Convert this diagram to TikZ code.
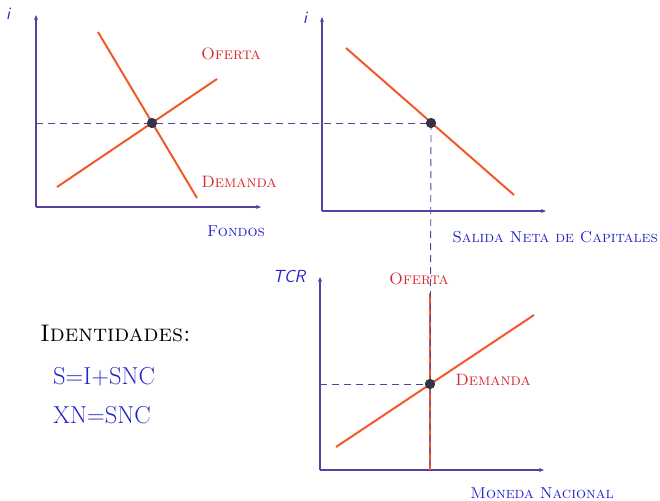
\documentclass[tikz,border=0pt]{standalone}
\usetikzlibrary{arrows.meta}
\definecolor{axiscol}{HTML}{5A3FA0}
\definecolor{curvecol}{HTML}{F2582A}
\definecolor{labred}{HTML}{D8262E}
\definecolor{labblue}{HTML}{2424C4}
\definecolor{dotcol}{HTML}{33334A}
\begin{document}
\begin{tikzpicture}[x=1pt,y=-1pt,
  axis/.style={draw=axiscol,line width=1.3pt,-{Stealth[length=5pt,width=4pt]}},
  curve/.style={draw=curvecol,line width=2pt},
  guide/.style={draw=axiscol,line width=0.9pt,dash pattern=on 7pt off 5pt},
  eqdot/.style={circle,fill=dotcol,inner sep=0pt,minimum size=10pt},
  redlab/.style={text=labred,font=\fontsize{16.5}{19}\selectfont\scshape,inner sep=0pt},
  bluelab/.style={text=labblue,font=\fontsize{15.8}{18}\selectfont\scshape,inner sep=0pt},
  axlab/.style={text=labblue,font=\fontsize{17.5}{20}\selectfont\sffamily\itshape,inner sep=0pt},
  eqlab/.style={text=labblue,font=\fontsize{24.5}{28}\selectfont,inner sep=0pt,anchor=west}]
\useasboundingbox (0,0) rectangle (660,500);
% panel 1
\coordinate (o1) at (36,207);
\coordinate (y1) at (36,15);
\coordinate (x1) at (261,207);
\draw[axis] (o1) -- (y1);
\draw[axis] (o1) -- (x1);
\coordinate (s1a) at (57,187);
\coordinate (s1b) at (217,79);
\coordinate (d1a) at (98,32);
\coordinate (d1b) at (197,198);
\draw[curve] (s1a) -- (s1b);
\draw[curve] (d1a) -- (d1b);
\node[axlab] (i1) at (8,14) {i};
\node[redlab] (of1) at (231,54) {Oferta};
\node[redlab] (de1) at (239,182) {Demanda};
\node[bluelab] (fo) at (236,231) {Fondos};
% panel 2
\coordinate (o2) at (322,211);
\coordinate (y2) at (322,17);
\coordinate (x2) at (546,211);
\draw[axis] (o2) -- (y2);
\draw[axis] (o2) -- (x2);
\coordinate (d2a) at (346,48);
\coordinate (d2b) at (514,195);
\draw[curve] (d2a) -- (d2b);
\node[axlab] (i2) at (305,18) {i};
\node[bluelab] (snc) at (555,237) {Salida Neta de Capitales};
% panel 3
\coordinate (o3) at (320,470);
\coordinate (y3) at (320,277);
\coordinate (x3) at (544,470);
\draw[axis] (o3) -- (y3);
\draw[axis] (o3) -- (x3);
\coordinate (s3a) at (430,293);
\coordinate (s3b) at (430,470);
\coordinate (d3a) at (336,447);
\coordinate (d3b) at (534,315);
\draw[curve] (s3a) -- (s3b);
\draw[curve] (d3a) -- (d3b);
\node[axlab] (tcr) at (289,276) {TCR};
\node[redlab] (of3) at (419,279) {Oferta};
\node[redlab] (de3) at (493,380) {Demanda};
\node[bluelab] (mn) at (542,493) {Moneda Nacional};
% equilibrium points and guides
\node[eqdot] (e1) at (152,123) {};
\node[eqdot] (e2) at (431,123) {};
\node[eqdot] (e3) at (430,384) {};
\coordinate (g1) at (36,123);
\coordinate (g3) at (320,384);
\coordinate (g2) at (430,470);
\draw[guide] (g1) -- (e2.center);
\draw[guide] (e2.center) -- (g2);
\draw[guide] (g3) -- (e3.center);
\node[eqdot] at (e1) {};
\node[eqdot] at (e2) {};
\node[eqdot] at (e3) {};
% identities
\node[font=\fontsize{24}{28}\selectfont\scshape,inner sep=0pt,anchor=west] (id) at (40,333) {Identidades:};
\node[eqlab] (eq1) at (53,377) {S=I+SNC};
\node[eqlab] (eq2) at (53,415) {XN=SNC};
\end{tikzpicture}
\end{document}
